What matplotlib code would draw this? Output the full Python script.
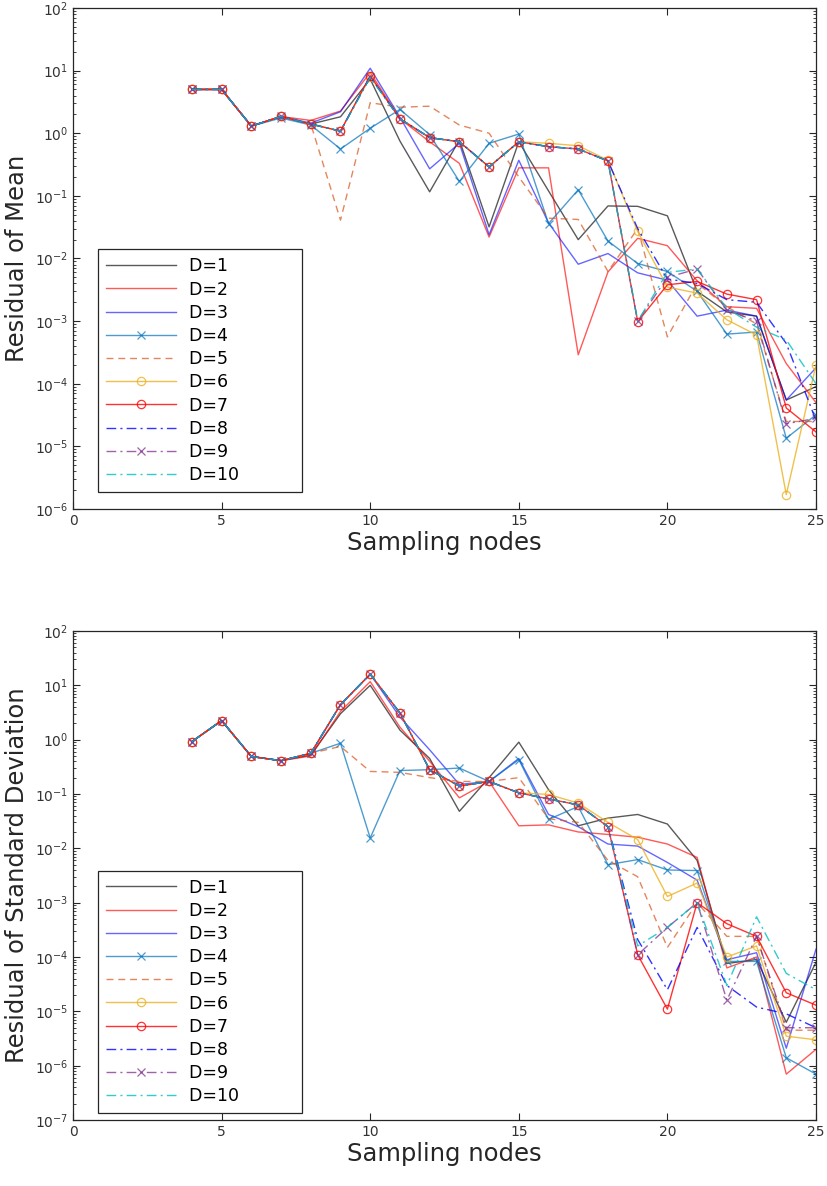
import numpy as np
import matplotlib
matplotlib.use('Agg')
import matplotlib.pyplot as plt
from matplotlib.ticker import LogLocator, NullFormatter

# -----------------------------------------------------------------------------
# Data
# -----------------------------------------------------------------------------
nodes = list(range(4, 26))
labels = ['D=%d' % d for d in range(1, 11)]

# residual of mean, one list per D
mean_D1 = [5.0, 5.0, 1.3, 1.85, 1.4, 1.83, 7.3, 0.75, 0.116, 0.78, 0.032, 0.73, 0.12, 0.020, 0.069, 0.068, 0.048, 0.0030, 0.0014, 0.0012, 5.5e-5, 9e-5]
mean_D2 = [5.0, 5.0, 1.3, 1.85, 1.6, 2.26, 9.3, 1.7, 0.73, 0.33, 0.022, 0.28, 0.28, 2.9e-4, 0.0061, 0.021, 0.016, 0.0044, 0.0017, 0.0016, 2.1e-4, 5e-5]
mean_D3 = [5.0, 5.0, 1.3, 1.85, 1.45, 2.2, 10.9, 1.8, 0.27, 0.69, 0.024, 0.37, 0.037, 0.0081, 0.012, 0.0059, 0.0045, 0.0012, 0.0015, 0.0012, 5.5e-5, 1.8e-4]
mean_D4 = [5.0, 5.0, 1.3, 1.75, 1.35, 0.56, 1.2, 2.4, 0.95, 0.17, 0.69, 0.97, 0.036, 0.125, 0.019, 0.0083, 0.0062, 0.0030, 6.2e-4, 6.7e-4, 1.35e-5, 3.2e-5]
mean_D5 = [5.0, 5.0, 1.3, 1.85, 1.4, 0.041, 3.07, 2.6, 2.7, 1.35, 1.0, 0.2, 0.044, 0.042, 0.0062, 0.03, 5.6e-4, 0.004, 0.0017, 9e-4, 2.5e-5, 2.5e-5]
mean_D6 = [5.0, 5.0, 1.3, 1.85, 1.4, 1.08, 8.0, 1.7, 0.85, 0.73, 0.29, 0.73, 0.69, 0.63, 0.37, 0.027, 0.0035, 0.0028, 0.00105, 6e-4, 1.7e-6, 2e-4]
mean_D7 = [5.0, 5.0, 1.3, 1.85, 1.4, 1.08, 8.3, 1.7, 0.85, 0.73, 0.29, 0.73, 0.61, 0.56, 0.36, 9.8e-4, 0.0038, 0.0043, 0.0027, 0.0022, 4.1e-5, 1.7e-5]
mean_D8 = [5.0, 5.0, 1.3, 1.85, 1.4, 1.08, 8.0, 1.7, 0.85, 0.73, 0.29, 0.73, 0.61, 0.56, 0.36, 0.03, 0.0047, 0.0040, 0.0022, 0.0020, 4.4e-4, 2.6e-5]
mean_D9 = [5.0, 5.0, 1.3, 1.85, 1.4, 1.08, 8.0, 1.7, 0.85, 0.73, 0.29, 0.73, 0.61, 0.56, 0.36, 1.0e-3, 0.005, 0.0068, 0.0015, 0.0010, 2.3e-5, 2.8e-5]
mean_D10 = [5.0, 5.0, 1.3, 1.85, 1.4, 1.08, 7.8, 1.7, 0.85, 0.73, 0.29, 0.73, 0.61, 0.56, 0.36, 1.0e-3, 0.006, 0.0068, 0.0016, 8e-4, 5e-4, 1e-4]

# residual of standard deviation
std_D1 = [0.92, 2.24, 0.49, 0.41, 0.52, 3.0, 10.0, 1.5, 0.45, 0.048, 0.2, 0.9, 0.12, 0.026, 0.036, 0.042, 0.028, 0.006, 7.6e-5, 9e-5, 6.3e-6, 8e-5]
std_D2 = [0.92, 2.24, 0.49, 0.41, 0.50, 3.3, 11.7, 1.7, 0.4, 0.085, 0.17, 0.026, 0.027, 0.02, 0.018, 0.016, 0.012, 0.0068, 6.3e-5, 1.0e-4, 7e-7, 2e-6]
std_D3 = [0.92, 2.24, 0.49, 0.41, 0.56, 4.4, 16.0, 2.6, 0.65, 0.15, 0.17, 0.45, 0.042, 0.025, 0.012, 0.011, 0.0055, 0.0026, 8.9e-5, 1.2e-4, 2.1e-6, 1.4e-4]
std_D4 = [0.92, 2.24, 0.49, 0.41, 0.56, 0.86, 0.0155, 0.27, 0.28, 0.30, 0.17, 0.43, 0.034, 0.059, 0.005, 0.0062, 0.0040, 0.0039, 8.3e-5, 8.3e-5, 1.4e-6, 7e-7]
std_D5 = [0.92, 2.24, 0.49, 0.41, 0.56, 0.75, 0.26, 0.25, 0.2, 0.17, 0.17, 0.2, 0.035, 0.03, 0.006, 0.003, 1.5e-4, 0.001, 2.4e-4, 2.4e-4, 4.5e-6, 4.5e-6]
std_D6 = [0.92, 2.24, 0.49, 0.41, 0.56, 4.4, 16.0, 3.1, 0.28, 0.14, 0.17, 0.105, 0.098, 0.068, 0.03, 0.0145, 0.0013, 0.0023, 1.0e-4, 1.6e-4, 3.5e-6, 3e-6]
std_D7 = [0.92, 2.24, 0.49, 0.41, 0.56, 4.4, 16.0, 3.1, 0.28, 0.14, 0.17, 0.105, 0.081, 0.063, 0.025, 1.1e-4, 1.1e-5, 1.0e-3, 4.1e-4, 2.4e-4, 2.2e-5, 1.3e-5]
std_D8 = [0.92, 2.24, 0.49, 0.41, 0.56, 4.4, 16.0, 3.1, 0.28, 0.14, 0.17, 0.105, 0.081, 0.063, 0.025, 2.1e-4, 2.5e-5, 3.5e-4, 3e-5, 1.2e-5, 9e-6, 5e-6]
std_D9 = [0.92, 2.24, 0.49, 0.41, 0.56, 4.4, 16.0, 3.1, 0.28, 0.14, 0.17, 0.105, 0.081, 0.063, 0.025, 1.1e-4, 3.5e-4, 1.0e-3, 1.6e-5, 2.4e-4, 5e-6, 5e-6]
std_D10 = [0.92, 2.24, 0.49, 0.41, 0.56, 4.4, 16.0, 3.1, 0.28, 0.14, 0.17, 0.105, 0.081, 0.063, 0.025, 1.6e-4, 3.5e-4, 1.0e-3, 3e-5, 5.5e-4, 5e-5, 2.5e-5]

mean_all = [mean_D1, mean_D2, mean_D3, mean_D4, mean_D5, mean_D6, mean_D7, mean_D8, mean_D9, mean_D10]
std_all = [std_D1, std_D2, std_D3, std_D4, std_D5, std_D6, std_D7, std_D8, std_D9, std_D10]

# -----------------------------------------------------------------------------
# Line styles (matlab-like)
# -----------------------------------------------------------------------------
colors = ['k', 'r', 'b', (0, 0.447, 0.741), (0.85, 0.325, 0.098),
          (0.929, 0.694, 0.125), 'r', 'b', (0.494, 0.184, 0.556), 'c']
dash = (5, 3.5)
dashdot = (7, 3, 1.5, 3)
styles = ['-', '-', '-', '-', (0, dash), '-', '-', (0, dashdot), (0, dashdot), (0, dashdot)]
markers = ['', '', '', 'x', '', 'o', 'o', '', 'x', '']
alphas = [0.65, 0.65, 0.6, 0.7, 0.7, 0.8, 0.8, 0.8, 0.75, 0.8]


def draw(ax, data, ylab, ymin, legend_y):
    for i in range(10):
        # trailing blanks widen the legend box like the matlab one
        ax.plot(nodes, data[i], color=colors[i], linestyle=styles[i], marker=markers[i],
                markersize=6, markerfacecolor='none', markeredgewidth=0.9,
                linewidth=1.0, alpha=alphas[i], label=labels[i] + '          ')
    ax.set_yscale('log')
    ax.set_xlim(0, 25)
    ax.set_ylim(ymin, 1e2)
    ax.set_xticks([0, 5, 10, 15, 20, 25])
    ax.yaxis.set_major_locator(LogLocator(base=10, numticks=20))
    ax.yaxis.set_minor_locator(LogLocator(base=10, subs=np.arange(2, 10), numticks=20))
    ax.yaxis.set_minor_formatter(NullFormatter())
    ax.tick_params(which='both', direction='in', top=True, right=True,
                   colors='#262626', labelcolor='#333333', labelsize=10)
    ax.tick_params(which='major', length=5)
    ax.tick_params(which='minor', length=2.5)
    for s in ax.spines.values():
        s.set_color('#262626')
        s.set_linewidth(0.9)
    ax.set_xlabel('Sampling nodes', fontsize=17.5, color='#262626', labelpad=2)
    ax.set_ylabel(ylab, fontsize=17.5, color='#262626', labelpad=4)
    leg = ax.legend(loc='lower left', bbox_to_anchor=(0.034, legend_y), borderaxespad=0,
                    fontsize=12.5, handlelength=4.0, labelspacing=0.3, handletextpad=0.8,
                    fancybox=False, framealpha=1, edgecolor='#262626',
                    borderpad=0.45)
    leg.get_frame().set_linewidth(0.9)


fig = plt.figure(figsize=(8.27, 11.86), dpi=100)
ax1 = fig.add_axes([0.0883, 0.5708, 0.8984, 0.4225])
ax2 = fig.add_axes([0.0883, 0.0556, 0.8984, 0.4124])

draw(ax1, mean_all, 'Residual of Mean', 1e-6, 0.034)
draw(ax2, std_all, 'Residual of Standard Deviation', 1e-7, 0.014)

fig.savefig('out.png', dpi=100)
